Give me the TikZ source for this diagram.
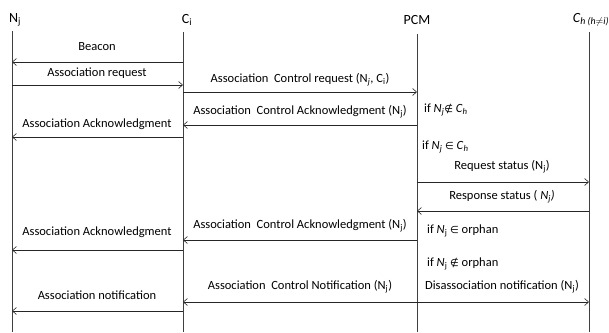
\documentclass[tikz,border=0pt]{standalone}
\usepackage{fontspec}
\setmainfont{Carlito}
\newfontfamily\symfont{DejaVu Sans}
\usetikzlibrary{arrows.meta}
\newcommand{\isin}{{\symfont\fontsize{10}{12}\selectfont ∈}}
\newcommand{\notisin}{{\symfont\fontsize{10}{12}\selectfont ∉}}
\begin{document}
\begin{tikzpicture}[
  x=1pt, y=-1pt,
  headbox/.style={inner sep=0pt, font=\fontsize{14}{16}\selectfont},
  lbl/.style={inner sep=0pt, font=\fontsize{12.5}{14}\selectfont},
  cond/.style={lbl, anchor=west},
  life/.style={draw=black!75, line width=0.6pt},
  msg/.style={-{Straight Barb[length=4pt,width=7pt]}, draw=black!85, line width=0.6pt},
]
\useasboundingbox (0,0) rectangle (609,332);

% ============================================================
% HEADERS AND LIFELINES
% ============================================================
\node[headbox] (nj)  at (15,20)  {N\textsubscript{j}};
\node[headbox] (ci)  at (187,20) {C\textsubscript{i}};
\node[headbox] (pcm) at (417,20) {PCM};
\node[headbox] (ch)  at (591,20) {\textit{C}\textsubscript{\textit{h (h$\neq$i)}}};

\coordinate (njtop)  at (12,31);   \coordinate (njbot)  at (12,332);
\coordinate (citop)  at (183,32);  \coordinate (cibot)  at (183,332);
\coordinate (pcmtop) at (417,34);  \coordinate (pcmbot) at (417,332);
\coordinate (chtop)  at (589,32);  \coordinate (chbot)  at (589,332);

\draw[life] (njtop) -- (njbot);
\draw[life] (citop) -- (cibot);
\draw[life] (pcmtop) -- (pcmbot);
\draw[life] (chtop) -- (chbot);

% ============================================================
% ASSOCIATION REQUEST
% ============================================================
\coordinate (m1) at (0,62);
\coordinate (m2) at (0,85);
\coordinate (m3) at (0,92);
\node[lbl] (beacon) at (97,47) {Beacon};
\node[lbl] (areq) at (97,73) {Association request};
\node[lbl] (acreq) at (300,80) {Association\ \ Control request (N\textsubscript{\textit{j}}, C\textsubscript{i})};
\draw[msg] (citop |- m1) -- (njtop |- m1);
\draw[msg] (njtop |- m2) -- (citop |- m2);
\draw[msg] (citop |- m3) -- (pcmtop |- m3);

% ============================================================
% CASE: N_j NOT IN C_h
% ============================================================
\coordinate (m4) at (0,125);
\coordinate (m5) at (0,137);
\node[cond] (notin) at (424,110) {if \textit{N}\textsubscript{\textit{j}}\notisin{} \textit{C}\textsubscript{\textit{h}}};
\node[lbl] (acack) at (300,112) {Association\ \ Control Acknowledgment (N\textsubscript{j})};
\node[lbl] (aack) at (97,124) {Association Acknowledgment};
\draw[msg] (pcmtop |- m4) -- (citop |- m4);
\draw[msg] (citop |- m5) -- (njtop |- m5);

% ============================================================
% CASE: N_j IN C_h
% ============================================================
\coordinate (m6) at (0,182);
\coordinate (m7) at (0,211);
\node[cond] (isin) at (422,147) {if \textit{N}\textsubscript{\textit{j}} \isin{} \textit{C}\textsubscript{\textit{h}}};
\node[lbl] (rqst) at (502,167) {Request status (N\textsubscript{j})};
\node[lbl] (rsst) at (502,197) {Response status ( \textit{N}\textsubscript{\textit{j}}\textit{)}};
\draw[msg] (pcmtop |- m6) -- (chtop |- m6);
\draw[msg] (chtop |- m7) -- (pcmtop |- m7);

% orphan
\coordinate (m8) at (0,240);
\coordinate (m9) at (0,250);
\node[cond] (orph) at (427,231) {if \textit{N}\textsubscript{j} \isin{} orphan};
\node[lbl] (acack2) at (300,226) {Association\ \ Control Acknowledgment (N\textsubscript{j})};
\node[lbl] (aack2) at (97,232) {Association Acknowledgment};
\draw[msg] (pcmtop |- m8) -- (citop |- m8);
\draw[msg] (citop |- m9) -- (njtop |- m9);

% not orphan
\coordinate (m10) at (0,302);
\coordinate (m11) at (0,311);
\node[cond] (norph) at (427,264) {if \textit{N}\textsubscript{j} \notisin{} orphan};
\node[lbl] (acnot) at (300,287) {Association\ \ Control Notification (N\textsubscript{j})};
\node[lbl] (disnot) at (502,287) {Disassociation notification (N\textsubscript{j})};
\node[lbl] (anot) at (97,295) {Association notification};
\draw[msg] (pcmtop |- m10) -- (citop |- m10);
\draw[msg] (pcmtop |- m10) -- (chtop |- m10);
\draw[msg] (citop |- m11) -- (njtop |- m11);

\end{tikzpicture}
\end{document}
